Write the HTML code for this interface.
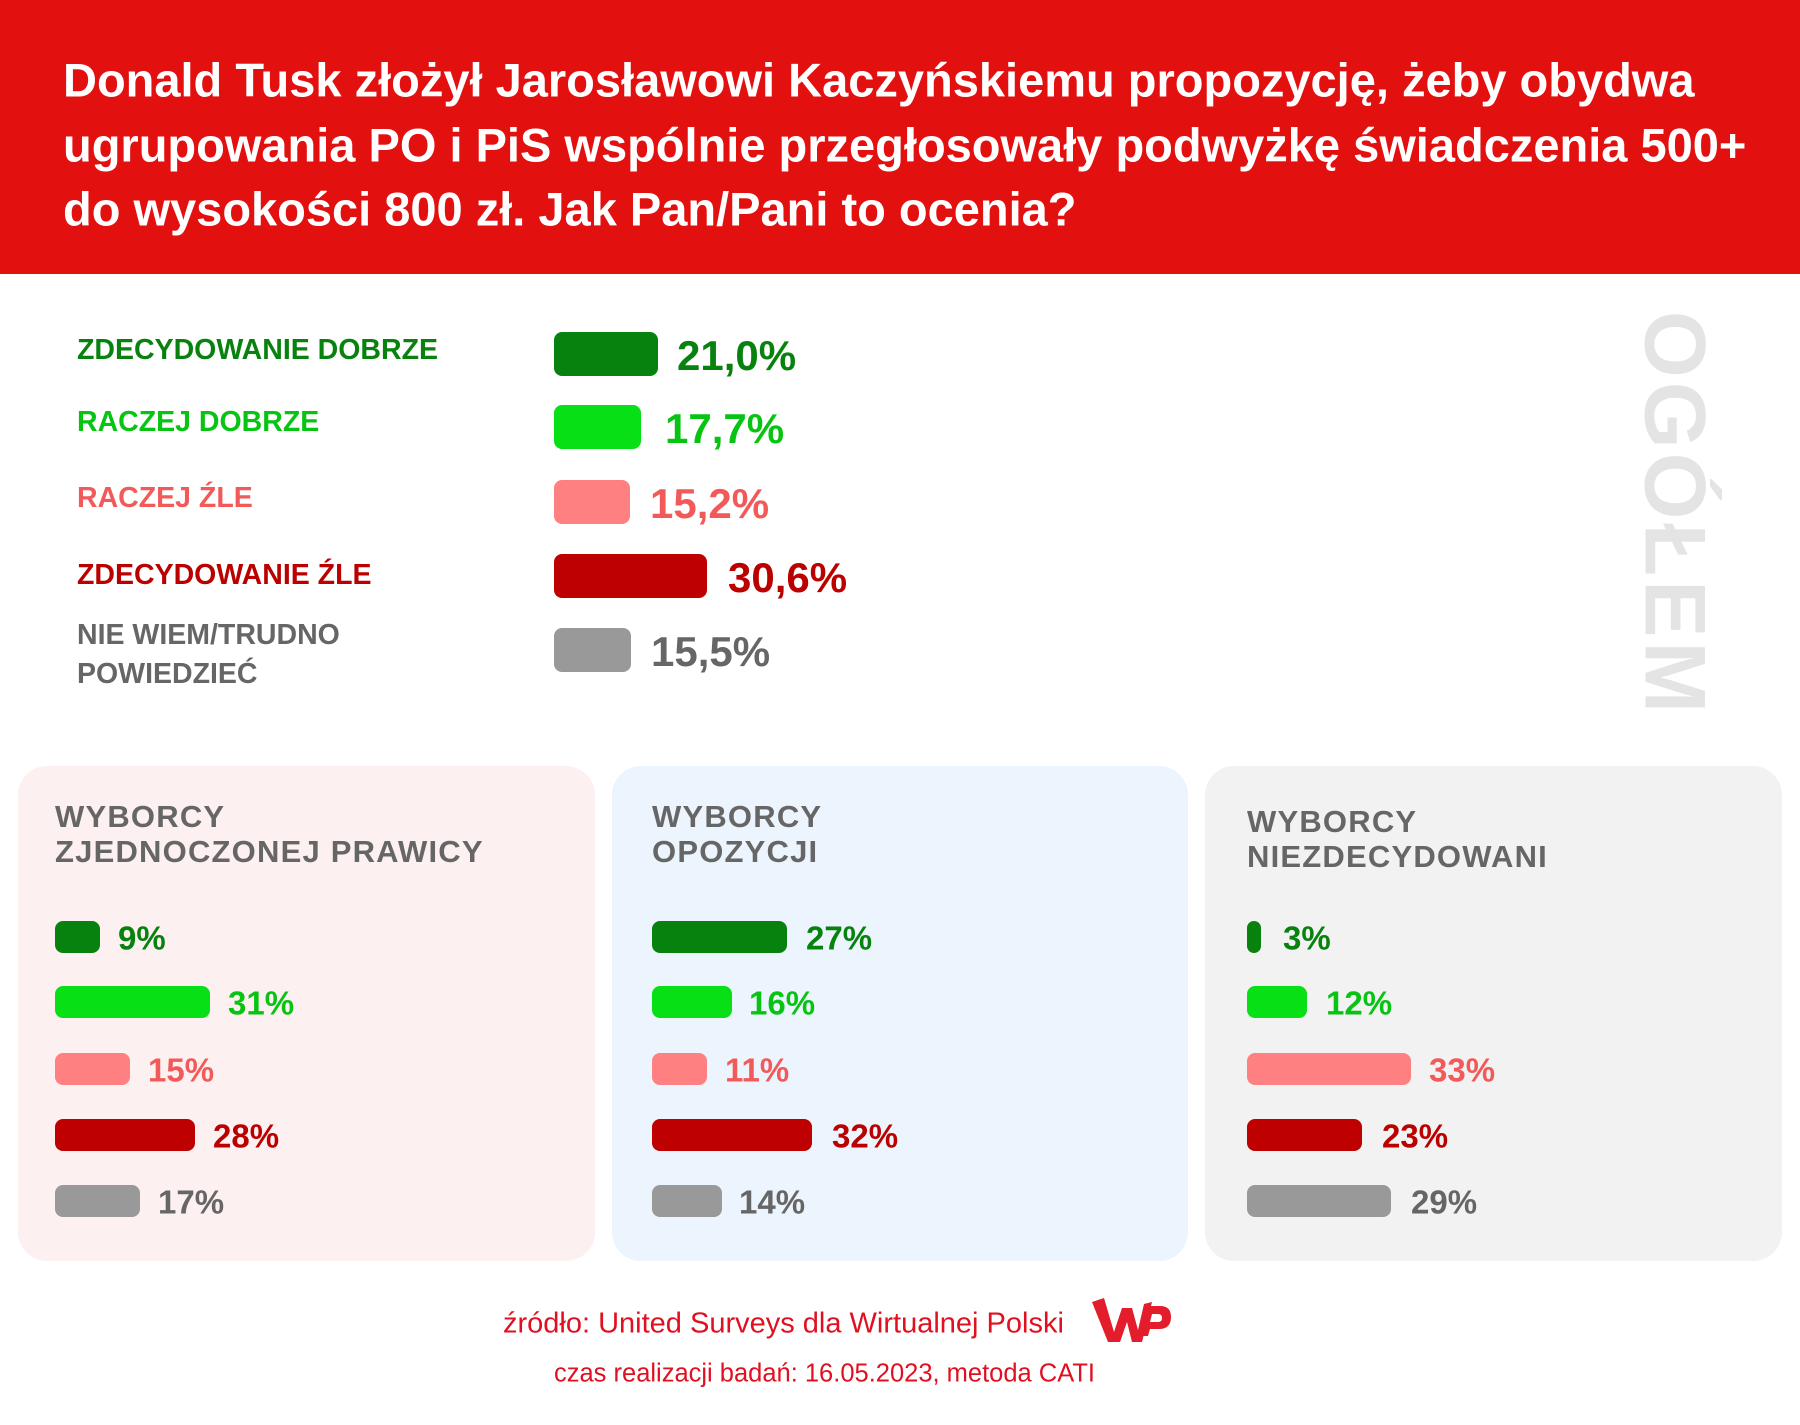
<!DOCTYPE html>
<html><head><meta charset="utf-8"><style>
*{margin:0;padding:0;box-sizing:border-box}
body{width:1800px;height:1425px;background:#fff;position:relative;overflow:hidden;font-family:"Liberation Sans",sans-serif}
.hdr{position:absolute;left:0;top:0;width:1800px;height:274px;background:#e31010}
.t{position:absolute;left:63px;color:#fff;font-size:47px;font-weight:bold;white-space:nowrap;line-height:1;transform:translateY(-50%)}
.lab{position:absolute;left:77px;font-size:28.5px;font-weight:bold;white-space:nowrap;line-height:1;transform:translateY(-50%)}
.bar{position:absolute;border-radius:8px}
.val{position:absolute;font-weight:bold;white-space:nowrap;line-height:1;transform:translateY(-50%)}
.big{font-size:42px}
.sm{font-size:33px}
.panel{position:absolute;top:766px;height:495px;border-radius:29px}
.pt{position:absolute;font-size:31px;font-weight:bold;color:#666;letter-spacing:1.2px;line-height:35px;white-space:nowrap}
.c1{color:#08820e}.b1{background:#08820e}
.c2{color:#07c413}.b2{background:#08e016}
.c3{color:#f25a5a}.b3{background:#ff8080}
.c4{color:#bb0000}.b4{background:#bf0000}
.c5{color:#666}.b5{background:#999}
.og{position:absolute;left:1674px;top:514px;transform:translate(-50%,-50%) rotate(90deg);font-size:86px;font-weight:bold;color:#e4e4e4;letter-spacing:4px;white-space:nowrap}
.ft{position:absolute;color:#e01020;font-size:29px;white-space:nowrap;line-height:1;transform:translateY(-50%)}
</style></head><body>
<div class="hdr"></div>
<div class="t" style="top:80px">Donald Tusk złożył Jarosławowi Kaczyńskiemu propozycję, żeby obydwa</div>
<div class="t" style="top:145px">ugrupowania PO i PiS wspólnie przegłosowały podwyżkę świadczenia 500+</div>
<div class="t" style="top:209px">do wysokości 800 zł. Jak Pan/Pani to ocenia?</div>

<div class="lab c1" style="top:350px">ZDECYDOWANIE DOBRZE</div>
<div class="lab c2" style="top:422px">RACZEJ DOBRZE</div>
<div class="lab c3" style="top:498px">RACZEJ ŹLE</div>
<div class="lab c4" style="top:575px">ZDECYDOWANIE ŹLE</div>
<div class="lab c5" style="top:635px">NIE WIEM/TRUDNO</div>
<div class="lab c5" style="top:674px">POWIEDZIEĆ</div>

<div class="bar b1" style="left:554px;top:332px;width:104px;height:44px"></div>
<div class="bar b2" style="left:554px;top:405px;width:87px;height:44px"></div>
<div class="bar b3" style="left:554px;top:480px;width:76px;height:44px"></div>
<div class="bar b4" style="left:554px;top:554px;width:153px;height:44px"></div>
<div class="bar b5" style="left:554px;top:628px;width:77px;height:44px"></div>
<div class="val big c1" style="left:677px;top:356px">21,0%</div>
<div class="val big c2" style="left:665px;top:429px">17,7%</div>
<div class="val big c3" style="left:650px;top:504px">15,2%</div>
<div class="val big c4" style="left:728px;top:578px">30,6%</div>
<div class="val big c5" style="left:651px;top:652px">15,5%</div>

<div class="og">OGÓŁEM</div>

<div class="panel" style="left:18px;width:577px;background:#fdf0f0"></div>
<div class="panel" style="left:612px;width:576px;background:#ecf4fd"></div>
<div class="panel" style="left:1205px;width:577px;background:#f2f2f2"></div>
<div class="pt" style="left:55px;top:799px">WYBORCY<br>ZJEDNOCZONEJ PRAWICY</div>
<div class="pt" style="left:652px;top:799px">WYBORCY<br>OPOZYCJI</div>
<div class="pt" style="left:1247px;top:804px">WYBORCY<br>NIEZDECYDOWANI</div>

<div class="bar b1" style="left:55px;top:921px;width:45px;height:32px"></div>
<div class="bar b2" style="left:55px;top:986px;width:155px;height:32px"></div>
<div class="bar b3" style="left:55px;top:1053px;width:75px;height:32px"></div>
<div class="bar b4" style="left:55px;top:1119px;width:140px;height:32px"></div>
<div class="bar b5" style="left:55px;top:1185px;width:85px;height:32px"></div>
<div class="val sm c1" style="left:118px;top:938px">9%</div>
<div class="val sm c2" style="left:228px;top:1003px">31%</div>
<div class="val sm c3" style="left:148px;top:1070px">15%</div>
<div class="val sm c4" style="left:213px;top:1136px">28%</div>
<div class="val sm c5" style="left:158px;top:1202px">17%</div>

<div class="bar b1" style="left:652px;top:921px;width:135px;height:32px"></div>
<div class="bar b2" style="left:652px;top:986px;width:80px;height:32px"></div>
<div class="bar b3" style="left:652px;top:1053px;width:55px;height:32px"></div>
<div class="bar b4" style="left:652px;top:1119px;width:160px;height:32px"></div>
<div class="bar b5" style="left:652px;top:1185px;width:70px;height:32px"></div>
<div class="val sm c1" style="left:806px;top:938px">27%</div>
<div class="val sm c2" style="left:749px;top:1003px">16%</div>
<div class="val sm c3" style="left:725px;top:1070px">11%</div>
<div class="val sm c4" style="left:832px;top:1136px">32%</div>
<div class="val sm c5" style="left:739px;top:1202px">14%</div>

<div class="bar b1" style="left:1247px;top:921px;width:14px;height:32px;border-radius:7px"></div>
<div class="bar b2" style="left:1247px;top:986px;width:60px;height:32px"></div>
<div class="bar b3" style="left:1247px;top:1053px;width:164px;height:32px"></div>
<div class="bar b4" style="left:1247px;top:1119px;width:115px;height:32px"></div>
<div class="bar b5" style="left:1247px;top:1185px;width:144px;height:32px"></div>
<div class="val sm c1" style="left:1283px;top:938px">3%</div>
<div class="val sm c2" style="left:1326px;top:1003px">12%</div>
<div class="val sm c3" style="left:1429px;top:1070px">33%</div>
<div class="val sm c4" style="left:1382px;top:1136px">23%</div>
<div class="val sm c5" style="left:1411px;top:1202px">29%</div>

<div class="ft" style="left:503px;top:1324px">źródło: United Surveys dla Wirtualnej Polski</div>
<div class="ft" style="left:554px;top:1374px;font-size:25.5px">czas realizacji badań: 16.05.2023, metoda CATI</div>
<svg style="position:absolute;left:1090px;top:1296px" width="82" height="50" viewBox="0 0 82 50">
<path d="M2 6 L14 2 L24 36 L32 12 L42 12 L48 34 L54 8 L62 6 L52 46 L42 46 L37 26 L30 46 L18 46 Z" fill="#e31d2b"/>
<path d="M56 10 L70 10 Q81 10 81 21 Q81 33 69 33 L60 33 L58 40 L50 40 Z M62 18 L60 26 L68 26 Q72 26 72 22 Q72 18 68 18 Z" fill="#e31d2b" fill-rule="evenodd"/>
</svg>
</body></html>
